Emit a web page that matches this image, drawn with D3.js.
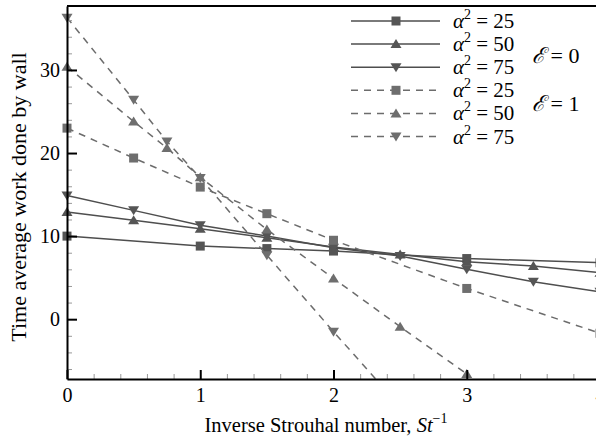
<!DOCTYPE html>
<html>
<head>
<meta charset="utf-8">
<script src="https://cdn.jsdelivr.net/npm/d3@7"></script>
<style>
  body { margin: 0; background: #fff; }
  svg { display: block; }
  text { font-family: "Liberation Serif", "Times New Roman", serif; }
</style>
</head>
<body>
<div id="plot"></div>
<script>
// values
const xTicks = [0, 1, 2, 3, 4];
const yTicks = [0, 10, 20, 30];

// E = 0 (solid lines)
const x0a25 = [0, 1, 1.5, 2, 3, 4];
const y0a25 = [10.0, 8.8, 8.5, 8.2, 7.3, 6.8];
const x0a50 = [0, 0.5, 1, 1.5, 2, 2.5, 3, 3.5, 4];
const y0a50 = [12.9, 11.9, 10.9, 9.8, 8.7, 7.8, 6.9, 6.4, 5.6];
const x0a75 = [0, 0.5, 1, 1.5, 2, 2.5, 3, 3.5, 4];
const y0a75 = [14.9, 13.1, 11.3, 10.0, 8.6, 7.6, 6.0, 4.5, 3.3];

// E = 1 (dashed lines)
const x1a25 = [0, 0.5, 1, 1.5, 2, 3, 4];
const y1a25 = [23.0, 19.4, 15.9, 12.7, 9.5, 3.7, -1.7];
const x1a50 = [0, 0.5, 0.75, 1, 1.5, 2, 2.5, 3];
const y1a50 = [30.4, 23.8, 20.6, 17.1, 10.8, 4.9, -0.9, -6.6];
const x1a75 = [0, 0.5, 0.75, 1, 1.5, 2, 2.5];
const y1a75 = [36.3, 26.4, 21.4, 17.0, 7.7, -1.5, -10.5];

const alphaLabels = ["25", "50", "75"];

const w = 596;
const h = 440;
const margin = {top: 6, left: 67};
const plotW = 533;
const plotH = 373;
const serif = "'Liberation Serif', 'Times New Roman', serif";

const svg = d3.select("div#plot")
    .append("svg")
    .attr("width", w)
    .attr("height", h);

const x = d3.scaleLinear().domain([0, 4]).range([0, plotW]);
const y = d3.scaleLinear().domain([-7.2, 37.7]).range([plotH, 0]);

const g = svg.append("g")
    .attr("transform", `translate(${margin.left},${margin.top})`);

g.append("clipPath").attr("id", "clip")
  .append("rect")
    .attr("x", -12).attr("y", -12)
    .attr("width", plotW + 24).attr("height", plotH + 12);

// marker shapes
function markerPath(kind) {
  if (kind == "square") return "M-4.5,-4.5H4.5V4.5H-4.5Z";
  if (kind == "up") return "M0,-5L5.5,4L-5.5,4Z";
  return "M0,5L5.5,-4L-5.5,-4Z";
}

const series = [
  {xs: x0a25, ys: y0a25, kind: "square", dash: null},
  {xs: x0a50, ys: y0a50, kind: "up", dash: null},
  {xs: x0a75, ys: y0a75, kind: "down", dash: null},
  {xs: x1a25, ys: y1a25, kind: "square", dash: "7,6"},
  {xs: x1a50, ys: y1a50, kind: "up", dash: "7,6"},
  {xs: x1a75, ys: y1a75, kind: "down", dash: "7,6"}
];

const line = d3.line()
    .x(d => x(d[0]))
    .y(d => y(d[1]));

const data = g.append("g").attr("clip-path", "url(#clip)");

series.forEach(s => {
  const pts = s.xs.map((v, i) => [v, s.ys[i]]);
  const col = s.dash ? "#6c6c6c" : "#4e4e4e";
  data.append("path")
      .datum(pts)
      .attr("d", line)
      .attr("fill", "none")
      .attr("stroke", col)
      .attr("stroke-width", 1.5)
      .attr("stroke-dasharray", s.dash);
  data.selectAll(null)
      .data(pts)
      .enter().append("path")
      .attr("transform", d => `translate(${x(d[0])},${y(d[1])})`)
      .attr("d", markerPath(s.kind))
      .attr("fill", s.dash ? "#6e6e6e" : "#555");
});

// minor ticks
const xMinor = d3.range(0, 4.01, 0.2).filter(v => Math.abs(v - Math.round(v)) > 0.01);
const yMinor = d3.range(-6, 38, 2).filter(v => v % 10 != 0);

g.append("g")
    .attr("transform", `translate(0,${plotH})`)
    .call(d3.axisBottom(x).tickValues(xMinor).tickSize(-5).tickFormat(""))
    .call(a => a.select(".domain").remove())
    .selectAll("line").attr("stroke", "#999");

g.append("g")
    .call(d3.axisLeft(y).tickValues(yMinor).tickSize(-5).tickFormat(""))
    .call(a => a.select(".domain").remove())
    .selectAll("line").attr("stroke", "#999");

// major axes
const xAxis = g.append("g")
    .attr("transform", `translate(0,${plotH})`)
    .call(d3.axisBottom(x).tickValues(xTicks).tickFormat(d3.format("d"))
        .tickSize(-9).tickPadding(9).tickSizeOuter(0))
    .attr("font-family", serif)
    .attr("font-size", 20);
xAxis.select(".domain").attr("stroke-width", 2);
xAxis.selectAll("line").attr("stroke-width", 2);
xAxis.selectAll("text").attr("fill", "#000");

const yAxis = g.append("g")
    .call(d3.axisLeft(y).tickValues(yTicks).tickFormat(d3.format("d"))
        .tickSize(-10).tickPadding(7).tickSizeOuter(0))
    .attr("font-family", serif)
    .attr("font-size", 20);
yAxis.select(".domain").attr("stroke-width", 2);
yAxis.selectAll("line").attr("stroke-width", 2);
yAxis.selectAll("text").attr("fill", "#000");

// top frame
g.append("line")
    .attr("x1", 0).attr("x2", plotW)
    .attr("y1", 0).attr("y2", 0)
    .attr("stroke", "#000").attr("stroke-width", 2);

// legend
const legX = 351;
const legY0 = 21;
const legStep = 23.1;
series.forEach((s, i) => {
  const ly = legY0 + i * legStep;
  const col = s.dash ? "#6c6c6c" : "#4e4e4e";
  svg.append("line")
      .attr("x1", legX).attr("x2", legX + 89)
      .attr("y1", ly).attr("y2", ly)
      .attr("stroke", col).attr("stroke-width", 1.5)
      .attr("stroke-dasharray", s.dash);
  svg.append("path")
      .attr("transform", `translate(${legX + 45},${ly})`)
      .attr("d", markerPath(s.kind))
      .attr("fill", s.dash ? "#6e6e6e" : "#555");
  const t = svg.append("text")
      .attr("x", 453).attr("y", ly + 7)
      .attr("font-size", 21);
  t.append("tspan").attr("font-style", "italic").text("α");
  t.append("tspan").attr("font-size", 14).attr("dy", -9).text("2");
  t.append("tspan").attr("dy", 9).text(" = " + alphaLabels[i % 3]);
});

svg.append("text").attr("x", 532).attr("y", 63).attr("font-size", 22)
    .html('<tspan font-style="italic">ℰ</tspan> = 0');
svg.append("text").attr("x", 532).attr("y", 111).attr("font-size", 22)
    .html('<tspan font-style="italic">ℰ</tspan> = 1');

// axis titles
const xt = svg.append("text")
    .attr("x", 326).attr("y", 432)
    .attr("text-anchor", "middle")
    .attr("font-size", 20.5);
xt.append("tspan").text("Inverse Strouhal number, ");
xt.append("tspan").attr("font-style", "italic").text("St");
xt.append("tspan").attr("font-size", 14).attr("dy", -9).text("−1");

svg.append("text")
    .attr("transform", "translate(26,197) rotate(-90)")
    .attr("text-anchor", "middle")
    .attr("font-size", 22)
    .text("Time average work done by wall");
</script>
</body>
</html>
